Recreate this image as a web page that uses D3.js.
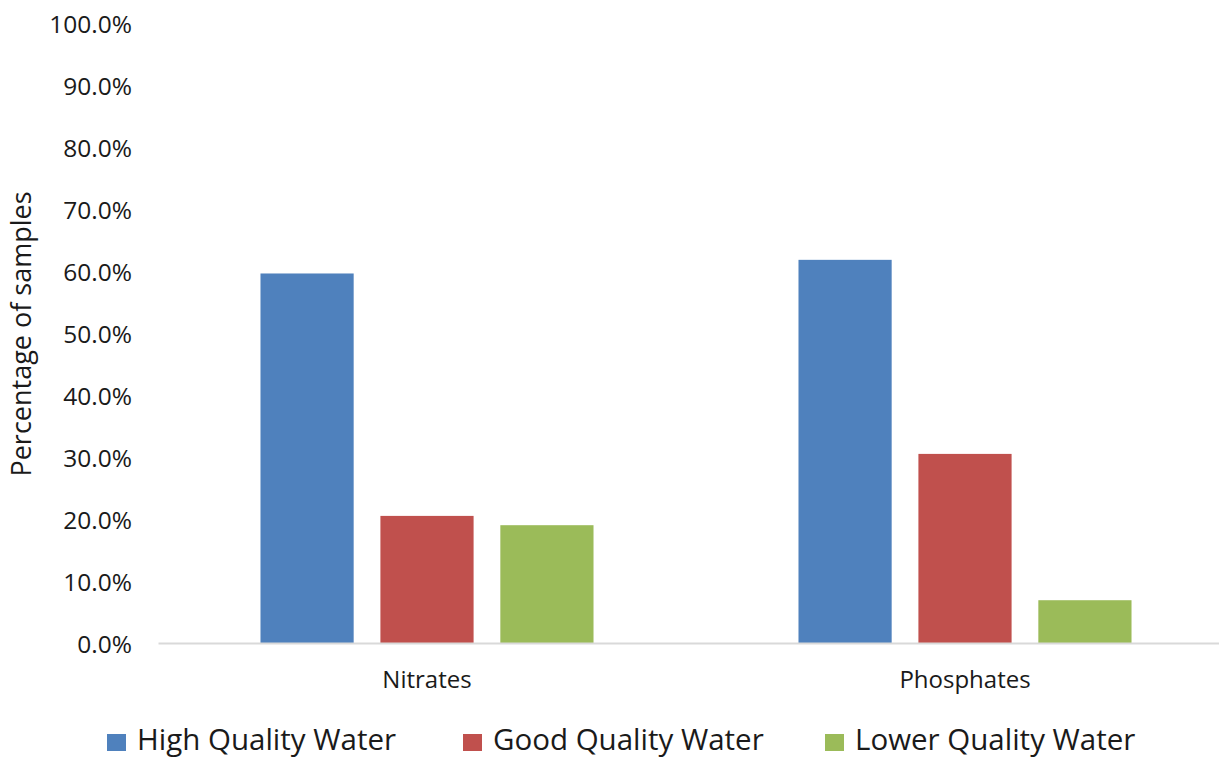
<!DOCTYPE html>
<html>
<head>
<meta charset="utf-8">
<script src="https://cdn.jsdelivr.net/npm/d3@7"></script>
<style>
  html, body { margin: 0; padding: 0; background: #fff; overflow: hidden; }
  svg { display: block; }
  text { font-family: "Open Sans", "Noto Sans", sans-serif; fill: #1a1a1a; }
</style>
</head>
<body>
<script>
const categories = ["Nitrates", "Phosphates"];
const seriesNames = ["High Quality Water", "Good Quality Water", "Lower Quality Water"];
const highQuality = [59.6, 61.8];
const goodQuality = [20.5, 30.5];
const lowerQuality = [19.0, 6.9];
const seriesColors = ["#4F81BD", "#C0504D", "#9BBB59"];
const yTickValues = [0, 10, 20, 30, 40, 50, 60, 70, 80, 90, 100];
const yAxisTitle = "Percentage of samples";

const seriesValues = [highQuality, goodQuality, lowerQuality];

const W = 1219, H = 758;
const svg = d3.select("body").append("svg").attr("width", W).attr("height", H);

const plotLeft = 158, plotRight = 1234, plotTop = 23, plotBottom = 643;

const x0 = d3.scaleBand().domain(categories).range([plotLeft, plotRight]).padding(0);
const bw = x0.bandwidth();
const x1 = d3.scaleBand().domain(seriesNames)
  .range([bw * 0.1905, bw * (1 - 0.1905)])
  .paddingInner(0.223).paddingOuter(0);
const y = d3.scaleLinear().domain([0, 100]).range([plotBottom, plotTop]);

// Y axis labels
const yAxis = d3.axisLeft(y).tickValues(yTickValues).tickSize(0).tickPadding(0)
  .tickFormat(d => d3.format(".1f")(d) + "%");
const gy = svg.append("g").attr("transform", "translate(132,2)").call(yAxis);
gy.select(".domain").remove();
gy.selectAll("text").attr("font-size", "24.5px").attr("fill", "#1a1a1a")
  .style("font-family", "'Open Sans', sans-serif");

// Bars
const groups = svg.append("g").selectAll("g").data(categories).join("g")
  .attr("transform", d => `translate(${x0(d)},0)`);
groups.selectAll("rect")
  .data((c, ci) => seriesNames.map((s, si) => ({ s, si, v: seriesValues[si][ci] })))
  .join("rect")
  .attr("x", d => x1(d.s))
  .attr("width", x1.bandwidth())
  .attr("y", d => y(d.v))
  .attr("height", d => y(0) - y(d.v))
  .attr("fill", d => seriesColors[d.si]);

// X axis
const xAxis = d3.axisBottom(x0).tickSize(0).tickPadding(0);
const gx = svg.append("g").attr("transform", `translate(0,${plotBottom})`).call(xAxis);
gx.select(".domain").attr("stroke", "#d9d9d9").attr("stroke-width", 2);
gx.selectAll("text").attr("font-size", "24px").attr("fill", "#1a1a1a")
  .attr("dy", null).attr("y", 45)
  .style("font-family", "'Open Sans', sans-serif");

// Y axis title
svg.append("text")
  .attr("transform", "translate(31,334) rotate(-90)")
  .attr("text-anchor", "middle")
  .attr("font-size", "27px")
  .text(yAxisTitle);

// Legend
const legendX = [107, 463, 825];
const leg = svg.append("g").selectAll("g").data(seriesNames).join("g")
  .attr("transform", (d, i) => `translate(${legendX[i]},0)`);
leg.append("rect").attr("x", 0).attr("y", 734).attr("width", 19).attr("height", 17)
  .attr("fill", (d, i) => seriesColors[i]);
leg.append("text").attr("x", 30).attr("y", 750).attr("font-size", "29.5px").text(d => d);
</script>
</body>
</html>
